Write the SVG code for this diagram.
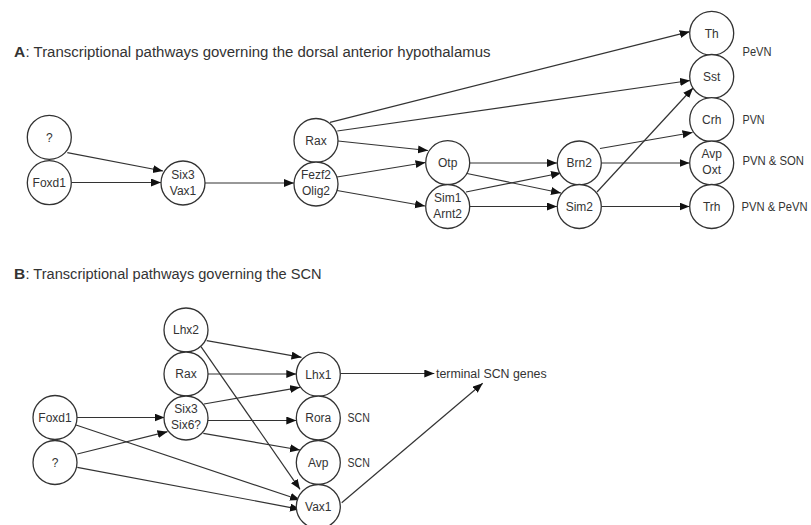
<svg xmlns="http://www.w3.org/2000/svg" width="811" height="525" viewBox="0 0 811 525">
<style>
.n circle{fill:#fff;stroke:#333;stroke-width:1.3}
text{font-family:"Liberation Sans",Arial,sans-serif;fill:#333}
.t{font-size:12px;text-anchor:middle}
.lb{font-size:12px}
.ti{font-size:15.5px}
.b{font-weight:bold}
#edges line{stroke:#333;stroke-width:1.2;marker-end:url(#ah)}
</style>
<defs>
<marker id="ah" markerUnits="userSpaceOnUse" markerWidth="11" markerHeight="9" refX="10" refY="4" orient="auto">
<path d="M0,0 L10,4 L0,8 z" fill="#111"/>
</marker>
</defs>
<rect width="811" height="525" fill="#fff"/>

<text class="ti b" x="14" y="56.5">A</text>
<text class="ti" x="25.5" y="56.5" textLength="465" lengthAdjust="spacingAndGlyphs">: Transcriptional pathways governing the dorsal anterior hypothalamus</text>
<text class="ti b" x="14" y="279">B</text>
<text class="ti" x="25.5" y="279" textLength="296" lengthAdjust="spacingAndGlyphs">: Transcriptional pathways governing the SCN</text>

<g id="edges">
<!-- A -->
<line x1="67.3" y1="152.7" x2="163" y2="171"/>
<line x1="71.5" y1="182.5" x2="161" y2="182.5"/>
<line x1="205" y1="183" x2="294" y2="183"/>
<line x1="330" y1="122.3" x2="689.7" y2="31.7"/>
<line x1="337.3" y1="131" x2="690" y2="80.5"/>
<line x1="338" y1="141" x2="428" y2="150.5"/>
<line x1="337" y1="177" x2="425.5" y2="162.5"/>
<line x1="337" y1="190.5" x2="425" y2="206"/>
<line x1="470" y1="163" x2="557" y2="163"/>
<line x1="467" y1="173.5" x2="561" y2="193"/>
<line x1="466" y1="192" x2="561" y2="173"/>
<line x1="470" y1="206.5" x2="557" y2="206.5"/>
<line x1="600" y1="148.5" x2="692.5" y2="132.5"/>
<line x1="601.5" y1="163" x2="689.5" y2="163"/>
<line x1="597" y1="192" x2="693" y2="88"/>
<line x1="601.5" y1="206.5" x2="689.5" y2="206.5"/>
<!-- B -->
<line x1="206.7" y1="340.7" x2="301.5" y2="357.3"/>
<line x1="201" y1="346.7" x2="300" y2="489.3"/>
<line x1="208" y1="374" x2="296.3" y2="374"/>
<line x1="204" y1="404" x2="300" y2="387.3"/>
<line x1="208" y1="420.5" x2="296.3" y2="420.5"/>
<line x1="203.3" y1="433.3" x2="300" y2="450"/>
<line x1="77" y1="417.5" x2="164.5" y2="417.5"/>
<line x1="76" y1="425" x2="300" y2="500"/>
<line x1="77.3" y1="454" x2="167.5" y2="431.7"/>
<line x1="77.3" y1="467.3" x2="300" y2="509.3"/>
<line x1="340.3" y1="373.5" x2="434.3" y2="373.5"/>
<line x1="341.7" y1="502.7" x2="482.7" y2="383.3"/>
</g>

<!-- A nodes -->
<g id="A_q" class="n"><circle cx="49.3" cy="137.3" r="22"/><text class="t" x="49.3" y="141.5">?</text></g>
<g id="A_Foxd1" class="n"><circle cx="49.3" cy="182.7" r="22"/><text class="t" x="49.3" y="187">Foxd1</text></g>
<g id="A_Six3Vax1" class="n"><circle cx="183" cy="183" r="22"/><text class="t" x="183" y="178.5">Six3</text><text class="t" x="183" y="194.5">Vax1</text></g>
<g id="A_Rax" class="n"><circle cx="316" cy="140.5" r="22"/><text class="t" x="316" y="145">Rax</text></g>
<g id="A_Fezf2Olig2" class="n"><circle cx="316" cy="184" r="22"/><text class="t" x="316" y="179">Fezf2</text><text class="t" x="316" y="195">Olig2</text></g>
<g id="A_Otp" class="n"><circle cx="447.7" cy="162.7" r="22"/><text class="t" x="447.7" y="167">Otp</text></g>
<g id="A_Sim1Arnt2" class="n"><circle cx="447.7" cy="206.5" r="22"/><text class="t" x="447.7" y="201.5">Sim1</text><text class="t" x="447.7" y="217.5">Arnt2</text></g>
<g id="A_Brn2" class="n"><circle cx="579.3" cy="163" r="22"/><text class="t" x="579.3" y="167.3">Brn2</text></g>
<g id="A_Sim2" class="n"><circle cx="579.3" cy="206.5" r="22"/><text class="t" x="579.3" y="210.8">Sim2</text></g>
<g id="A_Th" class="n"><circle cx="711.7" cy="33.3" r="22"/><text class="t" x="711.7" y="37.6">Th</text></g>
<g id="A_Sst" class="n"><circle cx="711.7" cy="76.5" r="22"/><text class="t" x="711.7" y="80.8">Sst</text></g>
<g id="A_Crh" class="n"><circle cx="711.7" cy="119.7" r="22"/><text class="t" x="711.7" y="124">Crh</text></g>
<g id="A_AvpOxt" class="n"><circle cx="711.7" cy="163" r="22"/><text class="t" x="711.7" y="158">Avp</text><text class="t" x="711.7" y="174">Oxt</text></g>
<g id="A_Trh" class="n"><circle cx="711.7" cy="206.5" r="22"/><text class="t" x="711.7" y="210.8">Trh</text></g>
<text class="lb" x="742.5" y="56" textLength="29" lengthAdjust="spacingAndGlyphs">PeVN</text>
<text class="lb" x="742.5" y="124" textLength="22" lengthAdjust="spacingAndGlyphs">PVN</text>
<text class="lb" x="742.5" y="165" textLength="61.5" lengthAdjust="spacingAndGlyphs">PVN &amp; SON</text>
<text class="lb" x="741.5" y="211" textLength="66" lengthAdjust="spacingAndGlyphs">PVN &amp; PeVN</text>

<!-- B nodes -->
<g id="B_Lhx2" class="n"><circle cx="186" cy="330" r="22"/><text class="t" x="186" y="334.3">Lhx2</text></g>
<g id="B_Rax" class="n"><circle cx="186" cy="374" r="22"/><text class="t" x="186" y="378.3">Rax</text></g>
<g id="B_Six3Six6" class="n"><circle cx="186" cy="418" r="22"/><text class="t" x="186" y="413">Six3</text><text class="t" x="186" y="429">Six6?</text></g>
<g id="B_Foxd1" class="n"><circle cx="55" cy="417.5" r="22"/><text class="t" x="55" y="421.8">Foxd1</text></g>
<g id="B_q" class="n"><circle cx="55" cy="462.5" r="22"/><text class="t" x="55" y="466.8">?</text></g>
<g id="B_Lhx1" class="n"><circle cx="318.3" cy="374.3" r="22"/><text class="t" x="318.3" y="378.6">Lhx1</text></g>
<g id="B_Rora" class="n"><circle cx="318.3" cy="418" r="22"/><text class="t" x="318.3" y="422.3">Rora</text></g>
<g id="B_Avp" class="n"><circle cx="318.3" cy="462.5" r="22"/><text class="t" x="318.3" y="466.8">Avp</text></g>
<g id="B_Vax1" class="n"><circle cx="318.3" cy="506.5" r="22"/><text class="t" x="318.3" y="510.8">Vax1</text></g>
<text class="lb" x="347.5" y="422.3" textLength="22.3" lengthAdjust="spacingAndGlyphs">SCN</text>
<text class="lb" x="347.5" y="466.8" textLength="22.3" lengthAdjust="spacingAndGlyphs">SCN</text>
<text class="lb" x="436" y="377.8" textLength="110.7" lengthAdjust="spacingAndGlyphs">terminal SCN genes</text>
</svg>
